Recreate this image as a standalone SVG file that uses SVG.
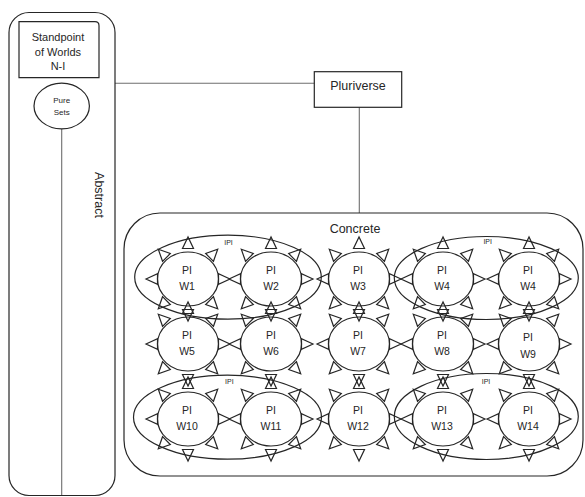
<svg xmlns="http://www.w3.org/2000/svg" xmlns:xlink="http://www.w3.org/1999/xlink" width="585" height="497" viewBox="0 0 585 497">
<style>
.sh{fill:none;stroke:#262626;stroke-width:1.2}
.cn{fill:none;stroke:#6e6e6e;stroke-width:1.1}
.ray{fill:none;stroke:#262626;stroke-width:1.2;stroke-linejoin:miter}
text{font-family:"Liberation Sans",Arial,sans-serif;fill:#262626;text-anchor:middle}
.w{font-size:10.5px}
.ipi{font-size:7px}
</style>
<defs>
<g id="sun">
<ellipse class="sh" cx="0" cy="0" rx="30.5" ry="27"/>
<polygon class="ray" points="42,0 30.5,-5.2 30.5,5.2"/>
<polygon class="ray" points="-42,0 -30.5,-5.2 -30.5,5.2"/>
<polygon class="ray" points="0,-42 -5.5,-30.5 5.5,-30.5"/>
<polygon class="ray" points="0,42 -5.5,30.5 5.5,30.5"/>
<polygon class="ray" points="29.7,-29.7 25.46,-17.68 17.68,-25.46"/>
<polygon class="ray" points="-29.7,-29.7 -17.68,-25.46 -25.46,-17.68"/>
<polygon class="ray" points="29.7,29.7 25.46,17.68 17.68,25.46"/>
<polygon class="ray" points="-29.7,29.7 -25.46,17.68 -17.68,25.46"/>
</g>
</defs>
<rect width="585" height="497" fill="#fff"/>

<g id="connectors">
<line class="cn" x1="61.7" y1="129" x2="61.7" y2="495"/>
<line class="cn" x1="115" y1="83.3" x2="314.3" y2="83.3"/>
<line class="cn" x1="359.3" y1="107.3" x2="359.3" y2="213"/>
</g>

<g id="abstract">
<rect class="sh" x="9" y="12.5" width="106" height="483" rx="20" ry="20"/>
<text transform="translate(94.5,195) rotate(90)" style="font-size:12.5px">Abstract</text>
</g>

<g id="standpoint">
<path class="sh" d="M19,21.7 H95 Q99,21.7 99,25.7 V77.7 H19 Z"/>
<text x="58" y="41.2" style="font-size:11px">Standpoint</text>
<text x="58" y="55.6" style="font-size:11px">of Worlds</text>
<text x="58" y="69.6" style="font-size:11px">N-I</text>
</g>

<g id="puresets">
<ellipse class="sh" cx="61.7" cy="106" rx="27.7" ry="22.8"/>
<text x="61.7" y="103.4" style="font-size:8px">Pure</text>
<text x="61.7" y="114.8" style="font-size:8px">Sets</text>
</g>

<g id="pluriverse">
<rect class="sh" x="314.3" y="71.7" width="87.4" height="35.6"/>
<text x="358" y="89.5" style="font-size:12.5px">Pluriverse</text>
</g>

<g id="concrete">
<rect class="sh" x="124" y="213" width="459" height="263" rx="36" ry="36"/>
<text x="355" y="232.8" style="font-size:12.5px">Concrete</text>
</g>

<g id="ipi1"><ellipse class="sh" cx="228" cy="277.2" rx="93.3" ry="42"/><text class="ipi" x="228.5" y="245">IPI</text></g>
<g id="ipi2"><ellipse class="sh" cx="486.3" cy="278" rx="92" ry="41.5"/><text class="ipi" x="487.7" y="243.5">IPI</text></g>
<g id="ipi3"><ellipse class="sh" cx="227.5" cy="417.2" rx="94" ry="42"/><text class="ipi" x="229.3" y="384.2">IPI</text></g>
<g id="ipi4"><ellipse class="sh" cx="486.3" cy="416.5" rx="92" ry="43"/><text class="ipi" x="486" y="384.2">IPI</text></g>

<g id="w1"><use xlink:href="#sun" href="#sun" x="188" y="279"/><text class="w" x="187" y="274.3">PI</text><text class="w" x="187" y="290.3">W1</text></g>
<g id="w2"><use xlink:href="#sun" href="#sun" x="271" y="279"/><text class="w" x="271" y="274.3">PI</text><text class="w" x="271" y="290.3">W2</text></g>
<g id="w3"><use xlink:href="#sun" href="#sun" x="359" y="279"/><text class="w" x="358" y="274.3">PI</text><text class="w" x="358" y="290.3">W3</text></g>
<g id="w4"><use xlink:href="#sun" href="#sun" x="443" y="279"/><text class="w" x="442" y="274.3">PI</text><text class="w" x="442" y="290.3">W4</text></g>
<g id="w4b"><use xlink:href="#sun" href="#sun" x="529" y="279"/><text class="w" x="528" y="274.3">PI</text><text class="w" x="528" y="290.3">W4</text></g>

<g id="w5"><use xlink:href="#sun" href="#sun" x="188" y="344"/><text class="w" x="187" y="339.3">PI</text><text class="w" x="187" y="355.3">W5</text></g>
<g id="w6"><use xlink:href="#sun" href="#sun" x="271" y="344"/><text class="w" x="271" y="339.3">PI</text><text class="w" x="271" y="355.3">W6</text></g>
<g id="w7"><use xlink:href="#sun" href="#sun" x="359" y="344"/><text class="w" x="358" y="339.3">PI</text><text class="w" x="358" y="355.3">W7</text></g>
<g id="w8"><use xlink:href="#sun" href="#sun" x="443" y="344"/><text class="w" x="442" y="339.3">PI</text><text class="w" x="442" y="355.3">W8</text></g>
<g id="w9"><use xlink:href="#sun" href="#sun" x="529" y="344"/><text class="w" x="528" y="341.3">PI</text><text class="w" x="528" y="358.3">W9</text></g>

<g id="w10"><use xlink:href="#sun" href="#sun" x="188" y="419"/><text class="w" x="187" y="414.3">PI</text><text class="w" x="187" y="430.3">W10</text></g>
<g id="w11"><use xlink:href="#sun" href="#sun" x="271" y="419"/><text class="w" x="271" y="414.3">PI</text><text class="w" x="271" y="430.3">W11</text></g>
<g id="w12"><use xlink:href="#sun" href="#sun" x="359" y="419"/><text class="w" x="358" y="414.3">PI</text><text class="w" x="358" y="430.3">W12</text></g>
<g id="w13"><use xlink:href="#sun" href="#sun" x="443" y="419"/><text class="w" x="442" y="414.3">PI</text><text class="w" x="442" y="430.3">W13</text></g>
<g id="w14"><use xlink:href="#sun" href="#sun" x="529" y="419"/><text class="w" x="528" y="414.3">PI</text><text class="w" x="528" y="430.3">W14</text></g>
</svg>
